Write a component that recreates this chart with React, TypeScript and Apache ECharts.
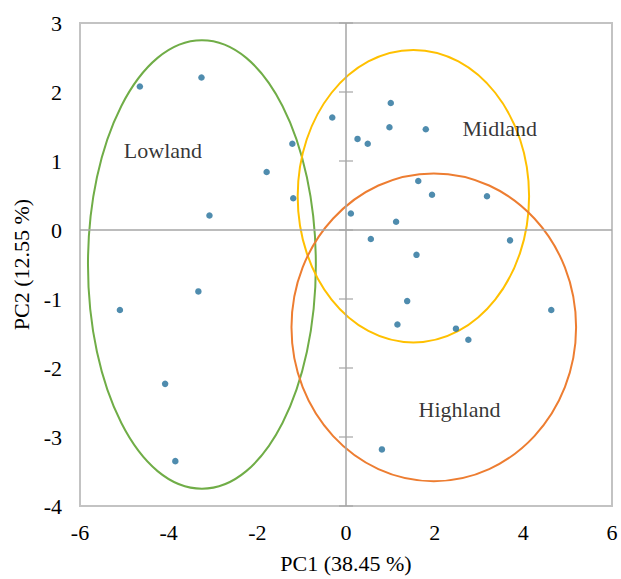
import React, { useEffect, useRef } from "react";
import * as echarts from "echarts";

// PCA scores (PC1, PC2)
const pc1: number[] = [
  -4.65, -3.26, -1.21, -1.79, -1.19, -3.08, -5.10, -3.33, -4.08, -3.85,
  -0.31, 1.01, 0.98, 1.80, 0.26, 0.49, 1.63, 1.94, 3.18, 0.11,
  1.13, 0.56, 3.70, 1.59, 1.38, 1.16, 2.48, 2.76, 4.63, 0.81,
];
const pc2: number[] = [
  2.08, 2.21, 1.25, 0.84, 0.46, 0.21, -1.16, -0.89, -2.23, -3.35,
  1.63, 1.84, 1.49, 1.46, 1.32, 1.25, 0.71, 0.51, 0.49, 0.24,
  0.12, -0.13, -0.15, -0.36, -1.03, -1.37, -1.43, -1.59, -1.16, -3.18,
];

// Group ellipses: centre x, centre y, radius x, radius y (data units)
const groupNames: string[] = ["Lowland", "Midland", "Highland"];
const ellipseCx: number[] = [-3.25, 1.52, 1.98];
const ellipseCy: number[] = [-0.5, 0.49, -1.41];
const ellipseRx: number[] = [2.57, 2.61, 3.21];
const ellipseRy: number[] = [3.25, 2.12, 2.23];
const groupColors: string[] = ["#70ad47", "#ffc000", "#ed7d31"];

// Group label positions (data units)
const labelX: number[] = [-4.13, 3.47, 2.56];
const labelY: number[] = [1.15, 1.47, -2.6];

const yTicks: number[] = [-4, -3, -2, -1, 0, 1, 2, 3];

const xTitle = "PC1 (38.45 %)";
const yTitle = "PC2 (12.55 %)";

const FONT = "'Liberation Serif', 'Times New Roman', serif";

export default function App() {
  const ref = useRef<HTMLDivElement>(null);
  useEffect(() => {
    if (!ref.current) return;
    const chart = echarts.init(ref.current, undefined, { renderer: "svg" });
    const points = pc1.map((x, i) => [x, pc2[i]]);
    const ellipses = groupNames.map((_, i) => [ellipseCx[i], ellipseCy[i], ellipseRx[i], ellipseRy[i]]);
    const labels = groupNames.map((n, i) => ({ name: n, value: [labelX[i], labelY[i]] }));
    chart.setOption({
      animation: false,
      grid: {
        left: 80,
        top: 23,
        right: 9,
        bottom: 69,
        show: true,
        borderColor: "#c3c3c3",
        borderWidth: 2,
        backgroundColor: "transparent",
      },
      xAxis: {
        type: "value",
        min: -6,
        max: 6,
        interval: 2,
        axisLine: { show: false },
        axisTick: { show: false },
        splitLine: { show: false },
        axisLabel: { fontFamily: FONT, fontSize: 22, color: "#000", margin: 15 },
        name: xTitle,
        nameLocation: "middle",
        nameGap: 46,
        nameTextStyle: { fontFamily: FONT, fontSize: 22, color: "#000" },
      },
      yAxis: {
        type: "value",
        min: -4,
        max: 3,
        interval: 1,
        axisLine: { show: false },
        axisTick: { show: false },
        splitLine: { show: false },
        axisLabel: { fontFamily: FONT, fontSize: 22, color: "#000", margin: 18 },
        name: yTitle,
        nameLocation: "middle",
        nameGap: 46,
        nameTextStyle: { fontFamily: FONT, fontSize: 22, color: "#000" },
      },
      series: [
        {
          type: "scatter",
          name: "zero",
          data: [],
          silent: true,
          markLine: {
            silent: true,
            symbol: ["none", "none"],
            label: { show: false },
            lineStyle: { color: "#a6a6a6", width: 1.5, type: "solid" },
            data: [{ xAxis: 0 }, { yAxis: 0 }],
          },
          z: 1,
        },
        {
          type: "scatter",
          name: "ticks",
          silent: true,
          symbol: "rect",
          symbolSize: [14, 1.5],
          itemStyle: { color: "#a6a6a6" },
          data: yTicks.map((v) => [0, v]),
          z: 2,
        },
        {
          type: "custom",
          name: "ellipses",
          silent: true,
          data: ellipses,
          renderItem: (params: any, api: any) => {
            const c = api.coord([api.value(0), api.value(1)]);
            const p = api.coord([api.value(0) + api.value(2), api.value(1) + api.value(3)]);
            return {
              type: "ellipse",
              shape: { cx: c[0], cy: c[1], rx: Math.abs(p[0] - c[0]), ry: Math.abs(p[1] - c[1]) },
              style: { fill: "none", stroke: groupColors[params.dataIndex], lineWidth: 2 },
            };
          },
          z: 3,
        },
        {
          type: "scatter",
          name: "samples",
          data: points,
          symbol: "circle",
          symbolSize: 6.5,
          itemStyle: { color: "#236f9a" },
          z: 4,
        },
        {
          type: "scatter",
          name: "labels",
          data: labels,
          symbolSize: 0,
          silent: true,
          label: {
            show: true,
            position: "inside",
            formatter: (p: any) => p.name,
            fontFamily: FONT,
            fontSize: 22,
            color: "#000",
          },
          z: 5,
        },
      ],
    });
    return () => chart.dispose();
  }, []);
  return (
    <div
      ref={ref}
      style={{ position: "absolute", left: 0, top: 0, width: 621, height: 579, background: "#fff" }}
    />
  );
}
